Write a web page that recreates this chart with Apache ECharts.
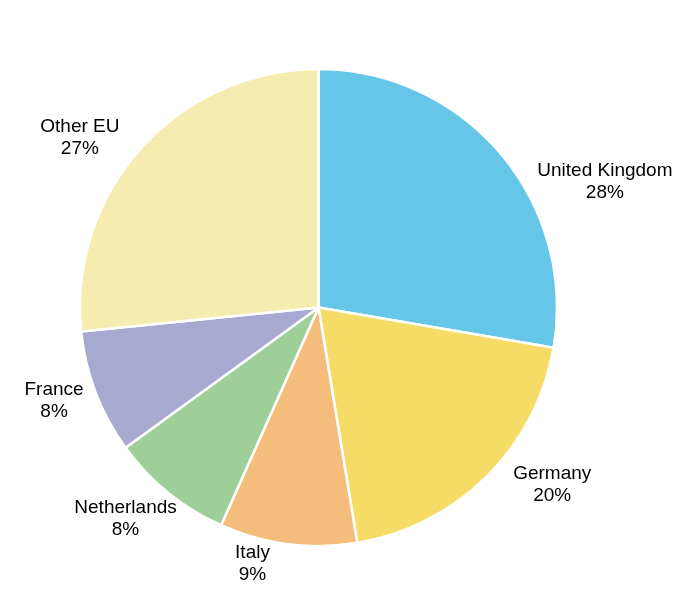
<!DOCTYPE html>
<html>
<head>
<meta charset="utf-8">
<script src="https://cdn.jsdelivr.net/npm/echarts@6/dist/echarts.min.js"></script>
<style>html,body{margin:0;padding:0;background:#fff}#c{width:700px;height:612px}</style>
</head>
<body>
<div id="c"></div>
<script>
const categories = ['United Kingdom', 'Germany', 'Italy', 'Netherlands', 'France', 'Other EU'];
const values = [27.7, 19.7, 9.3, 8.3, 8.4, 26.6];
const colors = ['#66c6e8', '#f5dc66', '#f5bd7c', '#9fcf99', '#a8a9d1', '#f6ecb0'];
// label fine adjustment (px), styling only
const labelNudgeX = [16, 7, -7, 27, 11, -2];
const labelNudgeY = [38, -3, 5, 14, 3, 0];

const chart = echarts.init(document.getElementById('c'), null, {renderer: 'canvas'});
const total = values.reduce((a, b) => a + b, 0);
chart.setOption({
  animation: false,
  backgroundColor: '#fff',
  series: [{
    type: 'pie',
    center: [318.5, 307.5],
    radius: 238.5,
    startAngle: 90,
    clockwise: true,
    avoidLabelOverlap: false,
    data: categories.map((n, i) => ({name: n, value: values[i], itemStyle: {color: colors[i]}})),
    itemStyle: {borderColor: '#fff', borderWidth: 2.5},
    label: {
      show: true,
      position: 'outside',
      fontFamily: 'Liberation Sans, Arial, sans-serif',
      fontSize: 19,
      lineHeight: 22,
      color: '#000',
      formatter: p => p.name + '\n' + Math.round(p.value / total * 100) + '%'
    },
    labelLine: {show: false, length: 15, length2: 4},
    labelLayout: p => ({
      x: p.labelRect.x + p.labelRect.width / 2 + labelNudgeX[p.dataIndex],
      y: p.labelRect.y + p.labelRect.height / 2 + labelNudgeY[p.dataIndex],
      align: 'center',
      verticalAlign: 'middle'
    }),
    emphasis: {disabled: true}
  }]
});
</script>
</body>
</html>
